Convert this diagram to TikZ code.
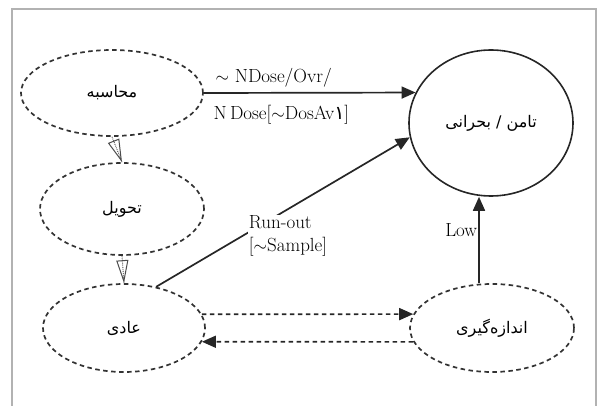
\documentclass[tikz,border=0pt]{standalone}
\usepackage{fontspec}
\usepackage{tikz}
\usetikzlibrary{arrows.meta, shapes.geometric, decorations.markings}
\newfontfamily\persianfont[Script=Arabic]{DejaVu Sans}
\TeXXeTstate=1
\newcommand{\fatext}[1]{{\persianfont\beginR #1\endR}}
\tikzset{phase/.style={ellipse, draw=black!80, dash pattern=on 4.5pt off 3.5pt,
		line width=1.7pt, inner sep=0pt, font=\fontsize{16}{19}\selectfont},
	lbl/.style={font=\fontsize{19}{23}\selectfont, inner sep=1pt},
	solidarrow/.style={line width=1.7pt, draw=black!85, -{Triangle[length=14pt,width=12pt]}},
	dasharrow/.style={solidarrow, dash pattern=on 4.5pt off 3.5pt},
	dotarrow/.style={densely dotted, line width=0.9pt, draw=black!70,
		decoration={markings,
			mark= at position 1 with {\arrow[solid, line width=1pt]{Triangle[open,length=23pt,width=12pt]}},
		},
		postaction={decorate}
	}
}
\begin{document}
\begin{tikzpicture}[x=1pt,y=-1pt]
	\useasboundingbox (0,0) rectangle (603,406);
	\draw[gray!60, line width=1.3pt] (12,9) rectangle (596,410);

	\node[phase, minimum width=182pt, minimum height=86pt] (calc) at (112,93) {\fatext{محاسبه}};
	\node[phase, minimum width=164pt, minimum height=92pt] (deliver) at (122,209) {\fatext{تحویل}};
	\node[phase, minimum width=162pt, minimum height=88pt] (normal) at (124,328) {\fatext{عادی}};
	\node[phase, minimum width=164pt, minimum height=88pt] (measure) at (492,328) {\fatext{اندازه‌گیری}};
	\node[ellipse, draw=black!85, line width=1.6pt, minimum width=164pt, minimum height=146pt,
		font=\fontsize{16}{19}\selectfont] (unsafe) at (491,123) {\fatext{تامن / بحرانی}};

	\draw[dotarrow] (calc.south) -- (deliver.north);
	\draw[dotarrow] (deliver.south) -- (normal.north);

	\draw[solidarrow] (calc.east) -- (unsafe.158)
		node[lbl, pos=0, anchor=south west, xshift=10pt, yshift=4pt] {$\sim$ NDose/Ovr/}
		node[lbl, pos=0, anchor=north west, xshift=8pt, yshift=-10pt] {N\,Dose[$\sim$DosAv{\persianfont ۱}]};
	\draw[solidarrow] (normal.52) -- (unsafe.190)
		node[lbl, pos=0.52, anchor=north, yshift=-5pt, fill=white, align=left] {Run-out\\{[}$\sim$Sample]};
	\draw[solidarrow] ([xshift=-13pt]measure.north) -- ([xshift=-13pt]measure.north |- unsafe.south)
		node[lbl, pos=0.62, left] {Low};

	\draw[dasharrow] (normal.10) -- (measure.170);
	\draw[dasharrow] (measure.190) -- (normal.350);
\end{tikzpicture}
\end{document}
